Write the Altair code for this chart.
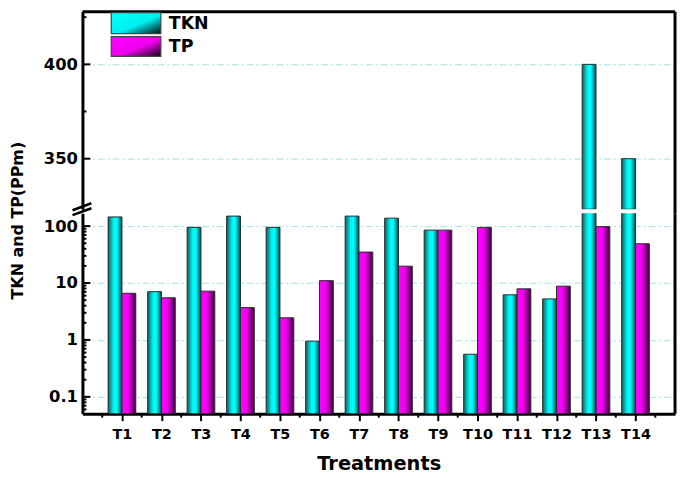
import altair as alt
import pandas as pd

treatments = ["T1", "T2", "T3", "T4", "T5", "T6", "T7", "T8", "T9", "T10", "T11", "T12", "T13", "T14"]
tkn = [145, 7.05, 95, 150, 95, 0.95, 150, 138, 85, 0.56, 6.2, 5.26, 400, 350]
tp = [6.6, 5.5, 7.2, 3.7, 2.45, 11, 35, 19.8, 85, 95, 7.9, 8.8, 98, 49]

upper_major = [350, 400]
upper_minor = [375, 425]
lower_major = [0.1, 1, 10, 100]
lower_minor = [m * 10.0 ** e for e in (-2, -1, 0, 1) for m in range(2, 10)]

UP_DOM = [323.2, 427.9]
LO_DOM = [0.0505, 168.6]
lower_minor = [v for v in lower_minor if LO_DOM[0] < v < LO_DOM[1]]

W = 597
H_UP = 199
H_LO = 202
GAP = 4
BW = 0.35
FONT = "DejaVu Sans"

rows = []
for i, t in enumerate(treatments):
    rows.append({"t": t, "pos": i + 1, "series": "TKN", "value": tkn[i], "x0": i + 1 - BW, "x1": i + 1})
    rows.append({"t": t, "pos": i + 1, "series": "TP", "value": tp[i], "x0": i + 1, "x1": i + 1 + BW})
df = pd.DataFrame(rows)

grad_tkn = alt.LinearGradient(
    gradient="linear", x1=0, x2=1, y1=0, y2=0,
    stops=[alt.GradientStop(color="#0b5f5f", offset=0),
           alt.GradientStop(color="#00f5f5", offset=0.4),
           alt.GradientStop(color="#00ffff", offset=0.62),
           alt.GradientStop(color="#004a4a", offset=1)])
grad_tp = alt.LinearGradient(
    gradient="linear", x1=0, x2=1, y1=0, y2=0,
    stops=[alt.GradientStop(color="#ff00ff", offset=0),
           alt.GradientStop(color="#f000f0", offset=0.45),
           alt.GradientStop(color="#3a003a", offset=1)])
leg_tkn = alt.LinearGradient(
    gradient="linear", x1=0, x2=1, y1=0, y2=1,
    stops=[alt.GradientStop(color="#00ffff", offset=0),
           alt.GradientStop(color="#00f0f0", offset=0.55),
           alt.GradientStop(color="#001010", offset=1)])
leg_tp = alt.LinearGradient(
    gradient="linear", x1=0, x2=1, y1=0, y2=1,
    stops=[alt.GradientStop(color="#ff00ff", offset=0),
           alt.GradientStop(color="#f000f0", offset=0.55),
           alt.GradientStop(color="#100010", offset=1)])

xscale = alt.Scale(domain=[0, 15], nice=False, zero=False)
grid_kw = dict(grid=True, gridColor="#9fe3e3", gridDash=[7, 3, 2, 3], gridWidth=1)

ys_up = alt.Scale(domain=UP_DOM, nice=False, zero=False)
ax_up = alt.Axis(values=upper_major, title=None, ticks=False, labelPadding=5,
                 domain=True, domainWidth=3, domainColor="black",
                 labelFont=FONT, labelFontWeight="bold", labelFontSize=16.5, labelColor="black",
                 **grid_kw)

ys_lo = alt.Scale(type="log", domain=LO_DOM, nice=False)
ax_lo = alt.Axis(values=lower_major, labelExpr="format(datum.value, '~g')", ticks=False,
                 labelPadding=5, domain=True, domainWidth=3, domainColor="black",
                 labelFont=FONT, labelFontWeight="bold", labelFontSize=16.5, labelColor="black",
                 title="TKN and TP(PPm)", titleFont=FONT, titleFontWeight="bold",
                 titleFontSize=16, titleColor="black", titleX=-57, titleY=7,
                 titleAngle=270, titleAlign="center", titleBaseline="bottom",
                 **grid_kw)
ax_x = alt.Axis(values=list(range(1, 15)), labelExpr="'T' + datum.value",
                tickSize=7, tickWidth=2, tickColor="black",
                domain=True, domainWidth=3, domainColor="black",
                labelFont=FONT, labelFontWeight="bold", labelFontSize=14.5,
                labelColor="black", labelPadding=7, grid=False,
                title="Treatments", titleFont=FONT, titleFontWeight="bold",
                titleFontSize=19.5, titleColor="black", titlePadding=14)


def bars(yscale, yaxis, xaxis, grad, series, ymin, only_above):
    ch = alt.Chart(df).transform_filter(alt.datum.series == series)
    if only_above:
        ch = ch.transform_filter(alt.datum.value > ymin)
    return ch.mark_bar(fill=grad, stroke="#2a2a2a", strokeWidth=1, clip=True).encode(
        x=alt.X("x0:Q", scale=xscale, axis=xaxis),
        x2="x1:Q",
        y=alt.Y("value:Q", scale=yscale, axis=yaxis),
        y2=alt.datum(ymin),
    )


def tick_rules(vals, yscale, yaxis, length):
    return alt.Chart(pd.DataFrame({"value": vals})).mark_rule(color="black", strokeWidth=2).encode(
        y=alt.Y("value:Q", scale=yscale, axis=yaxis),
        x=alt.value(0), x2=alt.value(length),
    )


one = pd.DataFrame({"a": [0]})

# ---------- upper panel ----------
upper = alt.layer(
    bars(ys_up, ax_up, None, grad_tkn, "TKN", UP_DOM[0], True),
    bars(ys_up, ax_up, None, grad_tp, "TP", UP_DOM[0], True),
    tick_rules(upper_major, ys_up, ax_up, 8),
    tick_rules(upper_minor, ys_up, ax_up, 4),
    alt.Chart(one).mark_rule(color="black", strokeWidth=3).encode(
        x=alt.value(0), x2=alt.value(W), y=alt.value(0)),
    alt.Chart(one).mark_rule(color="black", strokeWidth=3).encode(
        x=alt.value(W), y=alt.value(0), y2=alt.value(H_UP + GAP)),
    alt.Chart(one).mark_rect(fill=leg_tkn, stroke="#444", strokeWidth=1.2).encode(
        x=alt.value(29), x2=alt.value(79), y=alt.value(1), y2=alt.value(22)),
    alt.Chart(one).mark_rect(fill=leg_tp, stroke="#444", strokeWidth=1.2).encode(
        x=alt.value(29), x2=alt.value(79), y=alt.value(25), y2=alt.value(45)),
    alt.Chart(one).mark_text(align="left", baseline="middle", font=FONT, fontWeight="bold",
                             fontSize=17.5, color="black").encode(
        x=alt.value(87), y=alt.value(12), text=alt.value("TKN")),
    alt.Chart(one).mark_text(align="left", baseline="middle", font=FONT, fontWeight="bold",
                             fontSize=17.5, color="black").encode(
        x=alt.value(87), y=alt.value(36), text=alt.value("TP")),
).properties(width=W, height=H_UP)

# ---------- lower panel ----------
x_minor = [i + 0.5 for i in range(15)]
lower = alt.layer(
    bars(ys_lo, ax_lo, ax_x, grad_tkn, "TKN", LO_DOM[0], False),
    bars(ys_lo, ax_lo, ax_x, grad_tp, "TP", LO_DOM[0], False),
    tick_rules(lower_major, ys_lo, ax_lo, 8),
    tick_rules(lower_minor, ys_lo, ax_lo, 4),
    alt.Chart(pd.DataFrame({"x0": x_minor})).mark_rule(color="black", strokeWidth=2).encode(
        x=alt.X("x0:Q", scale=xscale, axis=ax_x), y=alt.value(H_LO), y2=alt.value(H_LO + 4)),
    alt.Chart(one).mark_rule(color="black", strokeWidth=3).encode(
        x=alt.value(W), y=alt.value(0), y2=alt.value(H_LO)),
    alt.Chart(one).mark_rule(color="black", strokeWidth=2.5).encode(
        x=alt.value(-10), x2=alt.value(9), y=alt.value(-3), y2=alt.value(-10)),
    alt.Chart(one).mark_rule(color="black", strokeWidth=2.5).encode(
        x=alt.value(-10), x2=alt.value(9), y=alt.value(2), y2=alt.value(-5)),
).properties(width=W, height=H_LO)

chart = alt.vconcat(upper, lower, spacing=GAP, bounds="flush").properties(
    padding={"left": 2, "top": 0, "right": 0, "bottom": 0}).configure_view(stroke=None)

chart.save("out.html", embed_options={"renderer": "svg", "actions": False})
